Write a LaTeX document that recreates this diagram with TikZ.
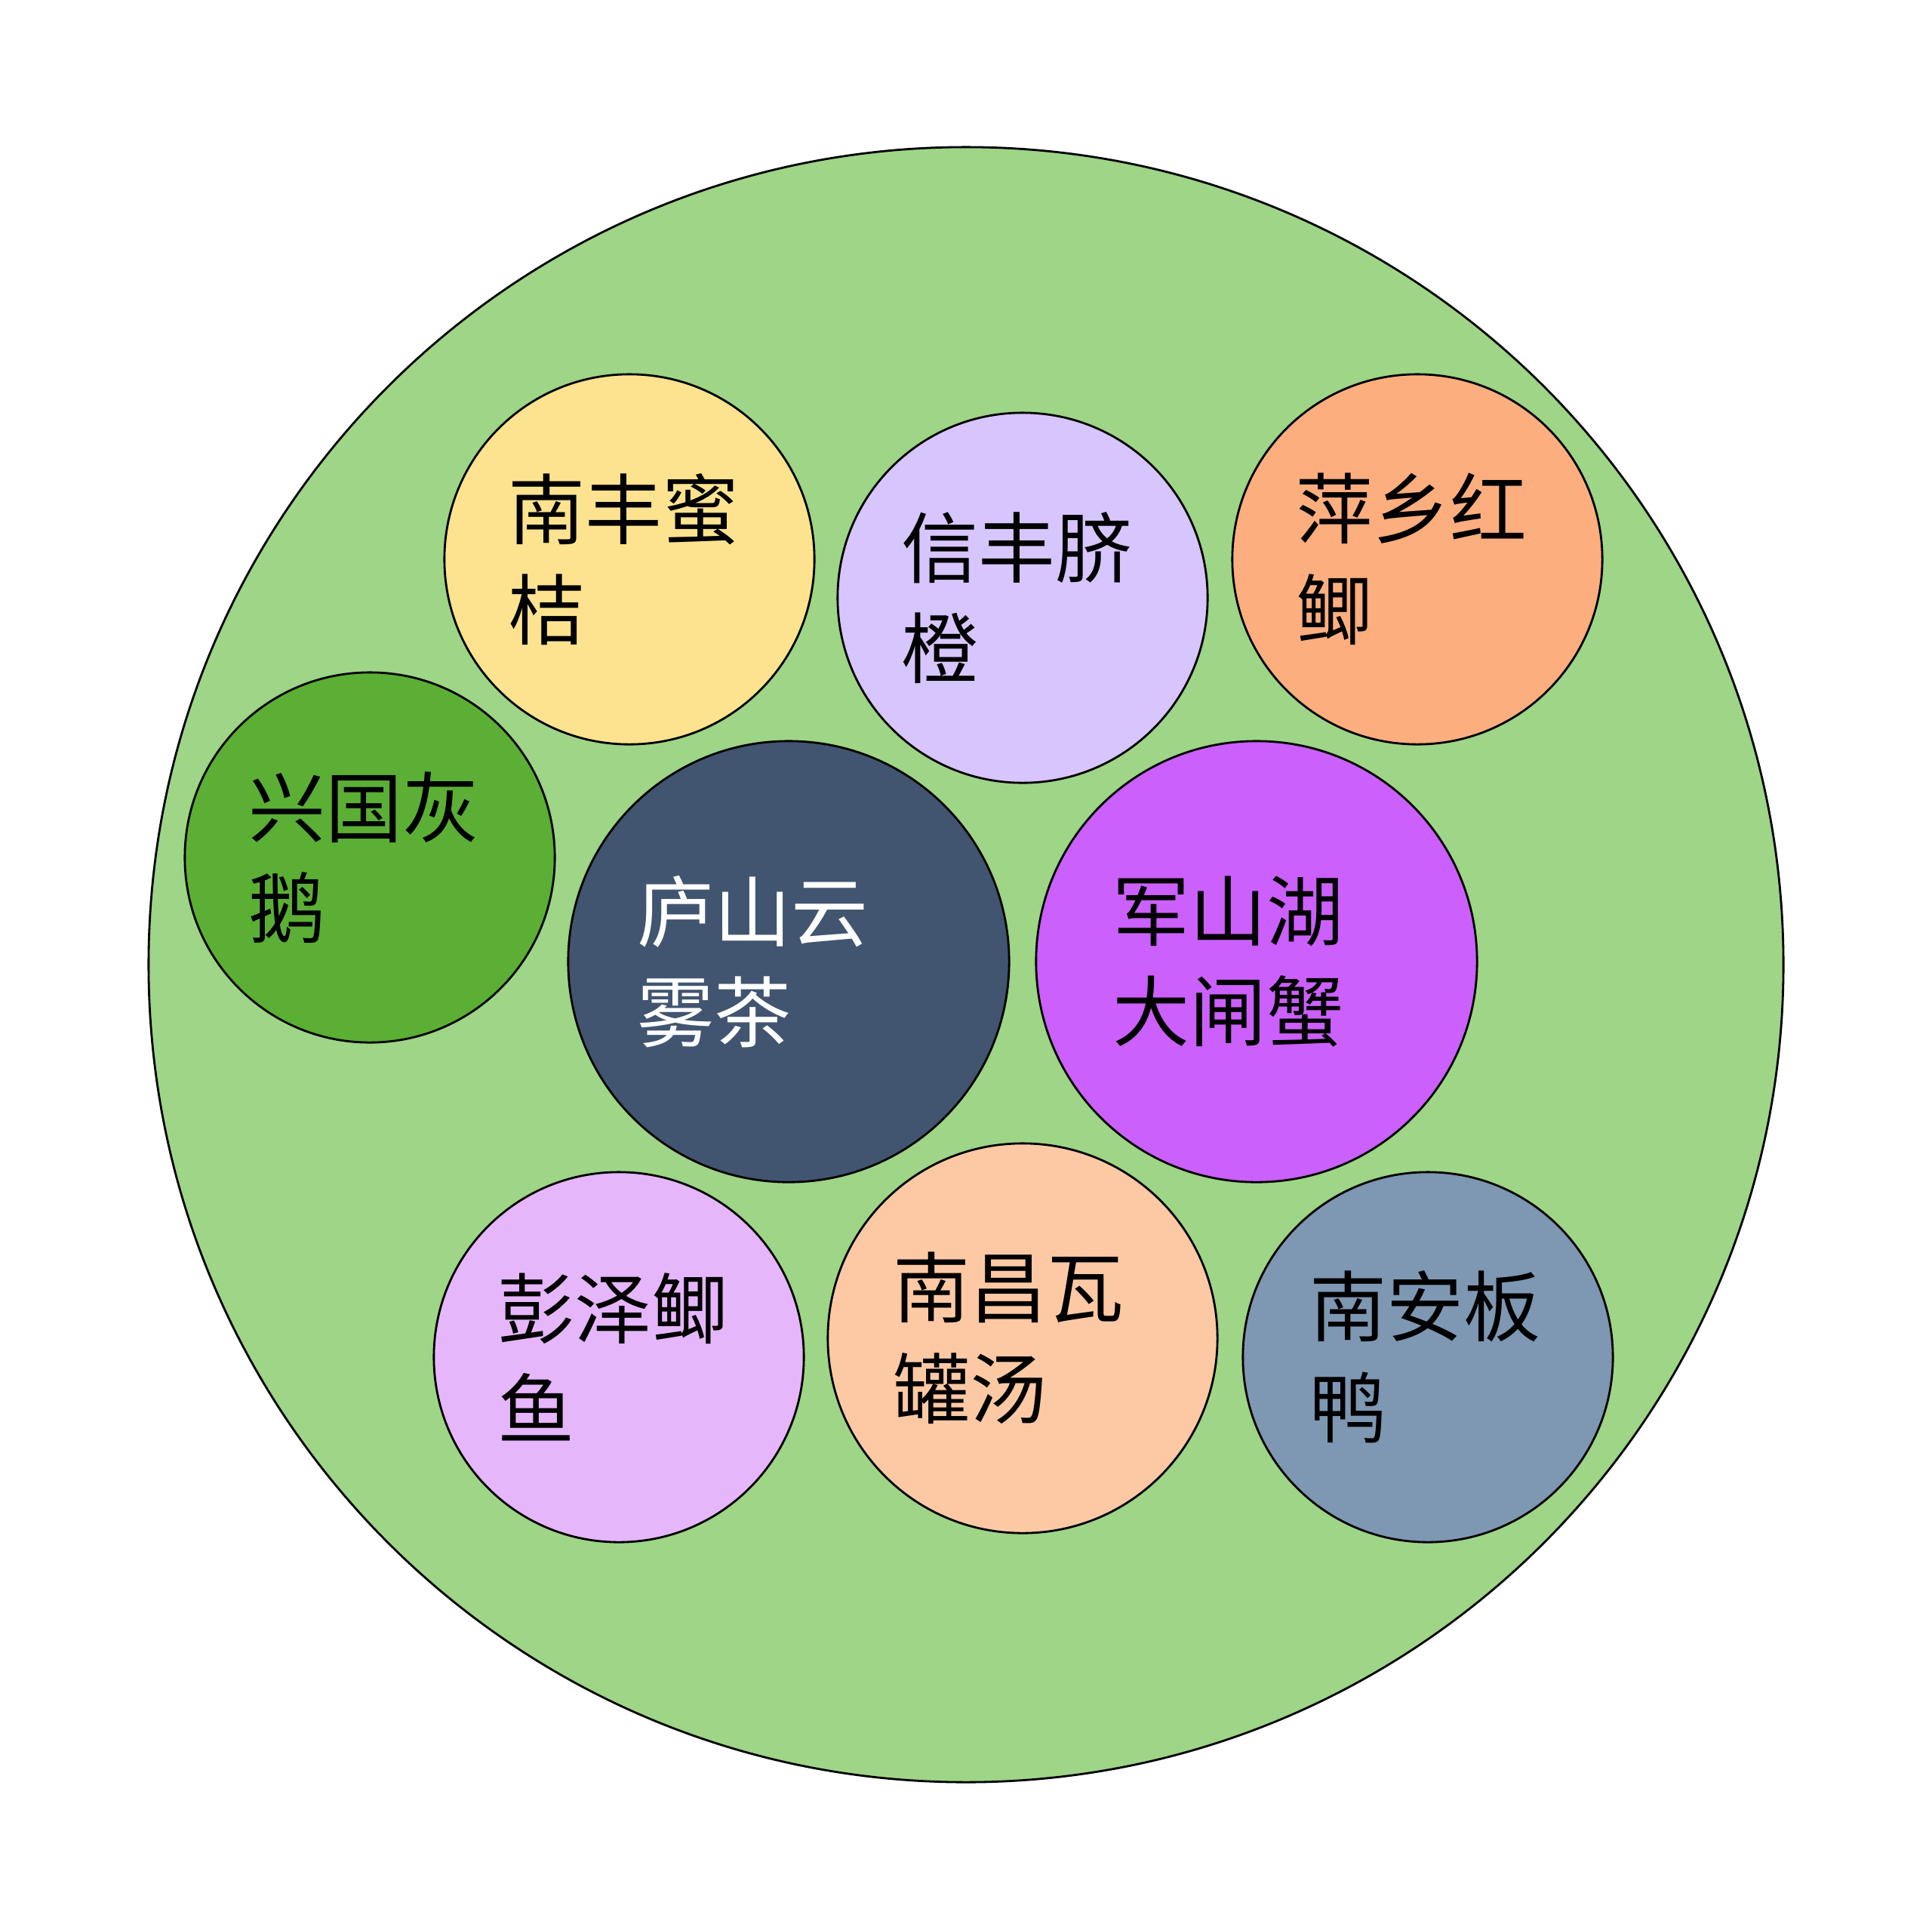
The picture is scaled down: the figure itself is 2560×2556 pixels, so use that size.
\documentclass[tikz,border=0pt]{standalone}
\usepackage{fontspec}
\newfontfamily\cjk{Noto Sans CJK SC}
\usetikzlibrary{positioning}
\definecolor{plategreen}{HTML}{9ED587}
\definecolor{melonyellow}{HTML}{FDE38F}
\definecolor{lilac}{HTML}{D7C5FD}
\definecolor{apricot}{HTML}{FDAE7E}
\definecolor{leafgreen}{HTML}{5BAF35}
\definecolor{teaslate}{HTML}{415570}
\definecolor{crabviolet}{HTML}{CB60FC}
\definecolor{orchid}{HTML}{E6B6FB}
\definecolor{peach}{HTML}{FDC9A5}
\definecolor{duckblue}{HTML}{7E97B2}
\tikzset{
  plate/.style={
    circle,
    draw=black,
    line width=0.8pt,
    fill=plategreen,
    inner sep=0pt,
    minimum size=21.65cm
  },
  bubble/.style={
    circle,
    draw=black,
    line width=0.8pt,
    inner sep=0pt,
    minimum size=4.9cm,
    align=left,
    text width=3.2cm,
    font=\cjk\fontsize{29}{38}\selectfont
  },
  bigbubble/.style={
    bubble,
    minimum size=5.84cm,
    text width=3.9cm
  }
}

\begin{document}
\begin{tikzpicture}[x=0.01cm,y=-0.01cm]
    \fill[white] (0,0) rectangle (2560,2556);
    \useasboundingbox (0,0) rectangle (2560,2556);
    \node[plate] (plate) at (1280,1278) {};

    \node[bubble,fill=melonyellow] (nanfeng) at (834,741) {南丰蜜\\桔};
    \node[bubble,fill=lilac] (xinfeng) at (1355,792) {信丰脐\\橙};
    \node[bubble,fill=apricot] (pingxiang) at (1878,741) {萍乡红\\鲫};
    \node[bubble,fill=leafgreen] (xingguo) at (490,1136) {兴国灰\\鹅};
    \node[bigbubble,fill=teaslate,text=white,text width=4cm] (lushan) at (1045,1274) {庐山云\\雾茶};
    \node[bigbubble,fill=crabviolet,text width=3.8cm] (junshan) at (1665,1274) {军山湖\\大闸蟹};
    \node[bubble,fill=orchid] (pengze) at (820,1798) {彭泽鲫\\鱼};
    \node[bubble,fill=peach,minimum size=5.16cm,text width=3.43cm] (nanchang) at (1355,1773) {南昌瓦\\罐汤};
    \node[bubble,fill=duckblue,text width=3.13cm] (nanan) at (1892,1798) {南安板\\鸭};
\end{tikzpicture}
\end{document}
